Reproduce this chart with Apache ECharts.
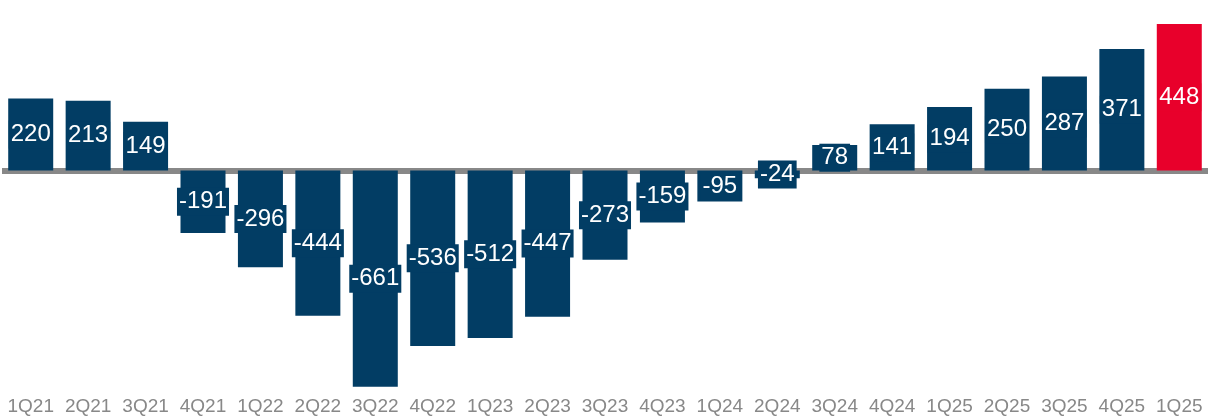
<!DOCTYPE html>
<html>
<head>
<meta charset="utf-8">
<script src="https://cdn.jsdelivr.net/npm/echarts@6/dist/echarts.min.js"></script>
<style>
  html, body { margin: 0; padding: 0; background: #fff; }
  #chart { width: 1208px; height: 418px; }
</style>
</head>
<body>
<div id="chart"></div>
<script>
// Quarter labels (the last one reads 1Q25 again in the source)
const quarters = ['1Q21', '2Q21', '3Q21', '4Q21', '1Q22', '2Q22', '3Q22', '4Q22', '1Q23', '2Q23',
    '3Q23', '4Q23', '1Q24', '2Q24', '3Q24', '4Q24', '1Q25', '2Q25', '3Q25', '4Q25', '1Q25'];
const values = [220, 213, 149, -191, -296, -444, -661, -536, -512, -447,
    -273, -159, -95, -24, 78, 141, 194, 250, 287, 371, 448];
const highlightIndex = [20];

const navy = '#023d64';
const red = '#e8002b';

const seriesData = values.map(function (v, i) {
    const c = highlightIndex.indexOf(i) >= 0 ? red : navy;
    return {
        value: v,
        itemStyle: { color: c },
        label: { backgroundColor: c }
    };
});

const chart = echarts.init(document.getElementById('chart'), null, { renderer: 'canvas' });

chart.setOption({
    animation: false,
    grid: { left: 2, top: 0, width: 1212, bottom: 25, containLabel: false },
    xAxis: {
        type: 'category',
        data: quarters,
        axisLine: { show: false, onZero: false },
        axisTick: { show: false },
        axisLabel: {
            interval: 0,
            margin: 4,
            color: '#888888',
            fontSize: 19,
            fontFamily: 'Liberation Sans, Arial, sans-serif'
        }
    },
    yAxis: {
        type: 'value',
        min: -680,
        max: 521,
        show: false,
        splitLine: { show: false }
    },
    series: [{
        type: 'bar',
        data: seriesData,
        barWidth: 45,
        label: {
            show: true,
            position: 'inside',
            color: '#ffffff',
            textBorderWidth: 0,
            fontSize: 24,
            fontFamily: 'Liberation Sans, Arial, sans-serif',
            padding: [2, 2, 2, 2],
            lineHeight: 24
        },
        markLine: {
            silent: true,
            symbol: 'none',
            label: { show: false },
            lineStyle: { color: '#888888', width: 6, type: 'solid' },
            data: [{ yAxis: 0 }],
            z: 1
        }
    }]
});
</script>
</body>
</html>
